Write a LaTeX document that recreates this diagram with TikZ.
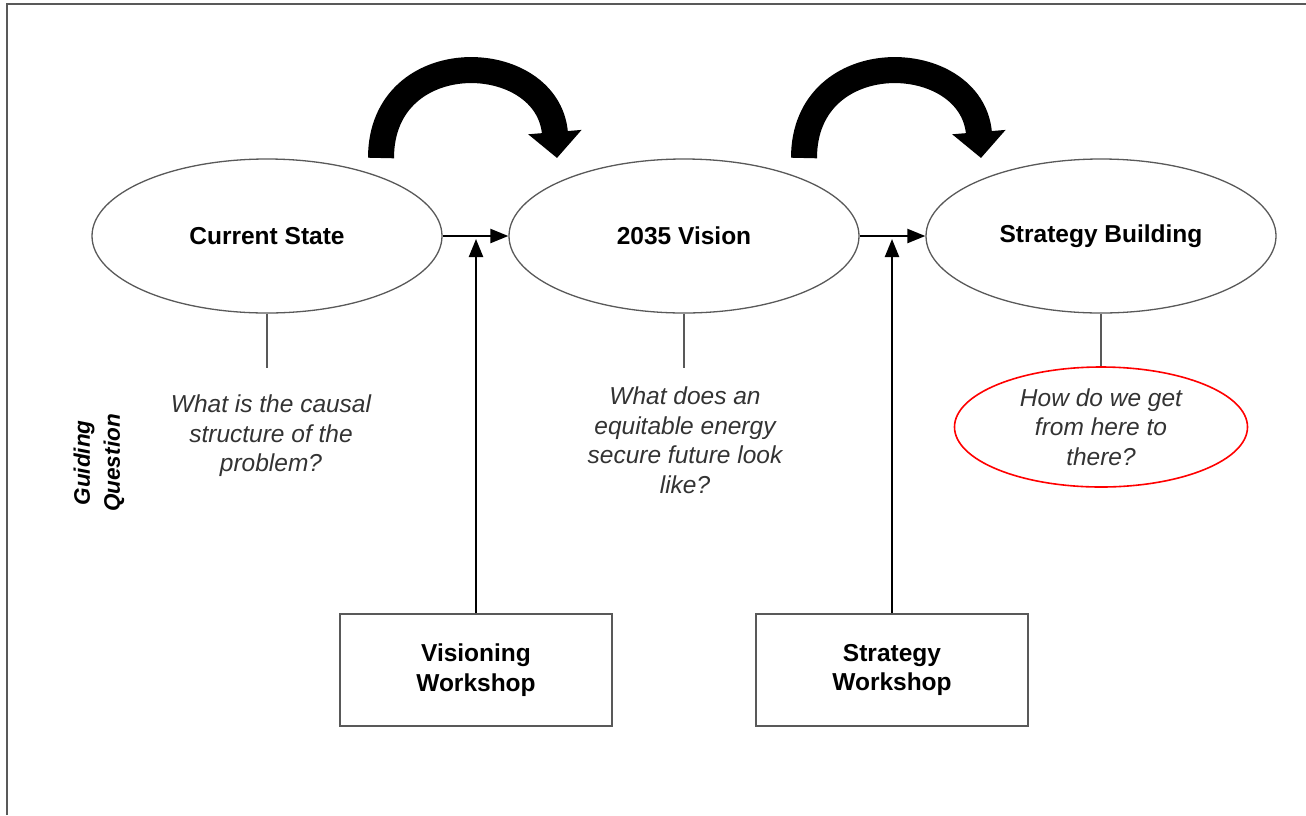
\documentclass[tikz,border=0pt]{standalone}
\usepackage{fontspec}
\setmainfont{Liberation Sans}
\usetikzlibrary{positioning, shapes.geometric, arrows.meta}

\tikzset{
  stage/.style={ellipse, draw=black!65, line width=1.3pt, minimum width=350pt, minimum height=154pt, inner sep=0pt, font=\bfseries\fontsize{24.5}{29.5}\selectfont},
  workshop/.style={rectangle, draw=black!65, line width=1.3pt, minimum width=272pt, minimum height=112pt, align=center, font=\bfseries\fontsize{24.5}{29.5}\selectfont},
  question/.style={align=center, text=black!80, font=\itshape\fontsize{24.5}{29.5}\selectfont},
  flow/.style={-{Triangle[length=18pt,width=14pt]}, line width=2.3pt},
  pendant/.style={draw=black!65, line width=1.3pt},
  bigarrow/.style={line width=26pt, -{Triangle[length=26pt,width=52pt]}},
}

\begin{document}
\begin{tikzpicture}[x=1pt, y=-1pt]
  \useasboundingbox (0,0) rectangle (1306,815);
  \draw[black!65, line width=2pt] (7,815) -- (7,4) -- (1306,4); % frame

  \node[stage] (cur) at (267,236) {Current State};
  \node[stage] (vis) at (684,236) {2035 Vision};
  \node[stage] (strat) at (1101,236) {Strategy Building};

  \node[workshop] (vws) at (476,670) {Visioning\\Workshop};
  \node[workshop] (sws) at (892,670) {Strategy\\Workshop};

  \node[question] (qcur) at (271,436) {What is the causal\\structure of the\\problem?};
  \node[question] (qvis) at (685,440) {What does an\\equitable energy\\secure future look\\like?};
  \node[question, ellipse, draw=red, line width=1.6pt, minimum width=293pt, minimum height=120pt, inner sep=0pt] (qstrat) at (1101,427) {How do we get\\from here to\\there?};

  \node[rotate=90, align=center, font=\bfseries\itshape\fontsize{22.5}{30}\selectfont] (guide) at (99,463) {Guiding\\Question};

  \coordinate (pcur) at (267,368);
  \coordinate (pvis) at (684,368);
  \draw[pendant] (cur.south) -- (pcur);
  \draw[pendant] (vis.south) -- (pvis);
  \draw[pendant] (strat.south) -- (qstrat.north);

  \draw[flow] (cur.east) -- (vis.west);
  \draw[flow] (vis.east) -- (strat.west);
  \draw[flow, shorten >=3pt] (vws.north) -- (vws.north |- cur.east);
  \draw[flow, shorten >=3pt] (sws.north) -- (sws.north |- vis.east);

  % big curved arrows
  \coordinate (hop1s) at (381,158);
  \coordinate (hop1e) at (557,158);
  \coordinate (hop2s) at (804,158);
  \coordinate (hop2e) at (981,158);
  \draw[bigarrow] (hop1s) .. controls (381,42) and (548,48) .. (hop1e);
  \draw[bigarrow] (hop2s) .. controls (804,42) and (972,48) .. (hop2e);
\end{tikzpicture}
\end{document}
